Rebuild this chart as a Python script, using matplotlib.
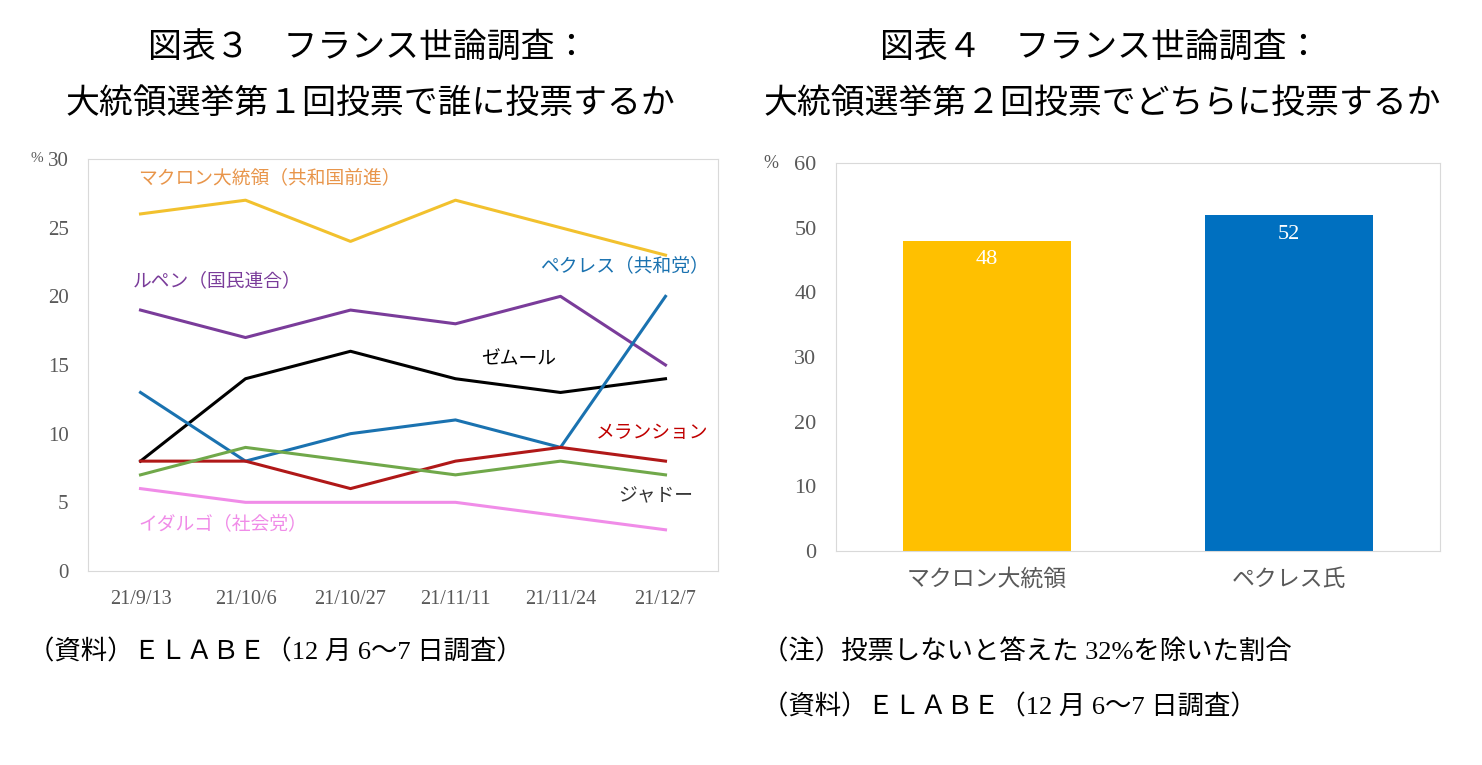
import numpy as np
import matplotlib
matplotlib.use('Agg')
import matplotlib.pyplot as plt

plt.rcParams['font.family'] = ['Liberation Serif', 'Noto Sans CJK JP', 'DejaVu Sans']

# left chart: first round voting intention (%)
dates = ['21/9/13', '21/10/6', '21/10/27', '21/11/11', '21/11/24', '21/12/7']
macron = [26, 27, 24, 27, 25, 23]
lepen = [19, 17, 19, 18, 20, 15]
zemmour = [8, 14, 16, 14, 13, 14]
pecresse = [13, 8, 10, 11, 9, 20]
melenchon = [8, 8, 6, 8, 9, 8]
jadot = [7, 9, 8, 7, 8, 7]
hidalgo = [6, 5, 5, 5, 4, 3]

# right chart: second round
candidates = ['マクロン大統領', 'ペクレス氏']
second_round = [48, 52]

series = [
    (macron, '#F2C12E', 'マクロン大統領（共和国前進）', '#E8954A', -0.02, 28.6, 'left'),
    (lepen, '#7A3C9A', 'ルペン（国民連合）', '#7A3C9A', -0.07, 21.1, 'left'),
    (zemmour, '#000000', 'ゼムール', '#000000', 3.6, 15.4, 'center'),
    (pecresse, '#1A72B0', 'ペクレス（共和党）', '#1A72B0', 5.41, 22.2, 'right'),
    (melenchon, '#B01818', 'メランション', '#C00000', 5.41, 10.0, 'right'),
    (jadot, '#70A84A', 'ジャドー', '#333333', 4.91, 5.4, 'center'),
    (hidalgo, '#F08CE8', 'イダルゴ（社会党）', '#F08CE8', -0.02, 3.4, 'left'),
]

fig = plt.figure(figsize=(14.82, 7.65), dpi=100)

tick_color = '#595959'
border_color = '#D9D9D9'

# ---- left chart ----
ax1 = fig.add_axes([88 / 1482, 194 / 765, 630 / 1482, 412 / 765])
x = np.arange(len(dates))
for vals, col, label, lcol, lx, ly, ha in series:
    ax1.plot(x, vals, color=col, lw=2.2)
for vals, col, label, lcol, lx, ly, ha in series:
    ax1.text(lx, ly, label, color=lcol, fontsize=13.5, ha=ha, va='center')
ax1.set_xlim(-0.5, len(dates) - 0.5)
ax1.set_ylim(0, 30)
ax1.set_yticks(range(0, 31, 5))
ax1.set_xticks(x)
ax1.set_xticklabels(dates)
ax1.tick_params(length=0, colors=tick_color, labelsize=15)
ax1.tick_params(axis='x', labelsize=14.5, pad=14)
ax1.tick_params(axis='y', pad=14)
for s in ax1.spines.values():
    s.set_color(border_color)
ax1.text(-0.072, 1.0, '%', transform=ax1.transAxes, fontsize=11, color=tick_color,
         ha='right', va='center')

# ---- right chart ----
ax2 = fig.add_axes([836 / 1482, 214 / 765, 604 / 1482, 388 / 765])
bx = np.arange(len(candidates))
bars = ax2.bar(bx, second_round, width=0.556, color=['#FFC000', '#0070C0'])
for b, v in zip(bars, second_round):
    ax2.text(b.get_x() + b.get_width() / 2, v - 3, str(v), color='white',
             fontsize=16, ha='center', va='center')
ax2.set_xlim(-0.5, len(candidates) - 0.5)
ax2.set_ylim(0, 60)
ax2.set_yticks(range(0, 61, 10))
ax2.set_xticks(bx)
ax2.set_xticklabels(candidates)
ax2.tick_params(length=0, colors=tick_color, labelsize=16)
ax2.tick_params(axis='x', labelsize=16.5, pad=13)
ax2.tick_params(axis='y', pad=14)
for s in ax2.spines.values():
    s.set_color(border_color)
ax2.text(-0.095, 1.0, '%', transform=ax2.transAxes, fontsize=13, color=tick_color,
         ha='right', va='center')

# ---- titles and notes ----
fig.text(368 / 1482, 1 - 49 / 765, '図表３　フランス世論調査：', fontsize=24.4,
         ha='center', va='center')
fig.text(370 / 1482, 1 - 104 / 765, '大統領選挙第１回投票で誰に投票するか', fontsize=24.4,
         ha='center', va='center')
fig.text(1100 / 1482, 1 - 49 / 765, '図表４　フランス世論調査：', fontsize=24.4,
         ha='center', va='center')
fig.text(1102 / 1482, 1 - 104 / 765, '大統領選挙第２回投票でどちらに投票するか', fontsize=24.4,
         ha='center', va='center')

fig.text(28 / 1482, 1 - 652 / 765, '（資料）ＥＬＡＢＥ（12 月 6～7 日調査）', fontsize=19,
         ha='left', va='center')
fig.text(762 / 1482, 1 - 652 / 765, '（注）投票しないと答えた 32%を除いた割合', fontsize=19,
         ha='left', va='center')
fig.text(762 / 1482, 1 - 707 / 765, '（資料）ＥＬＡＢＥ（12 月 6～7 日調査）', fontsize=19,
         ha='left', va='center')

fig.savefig('out.png', dpi=100)
